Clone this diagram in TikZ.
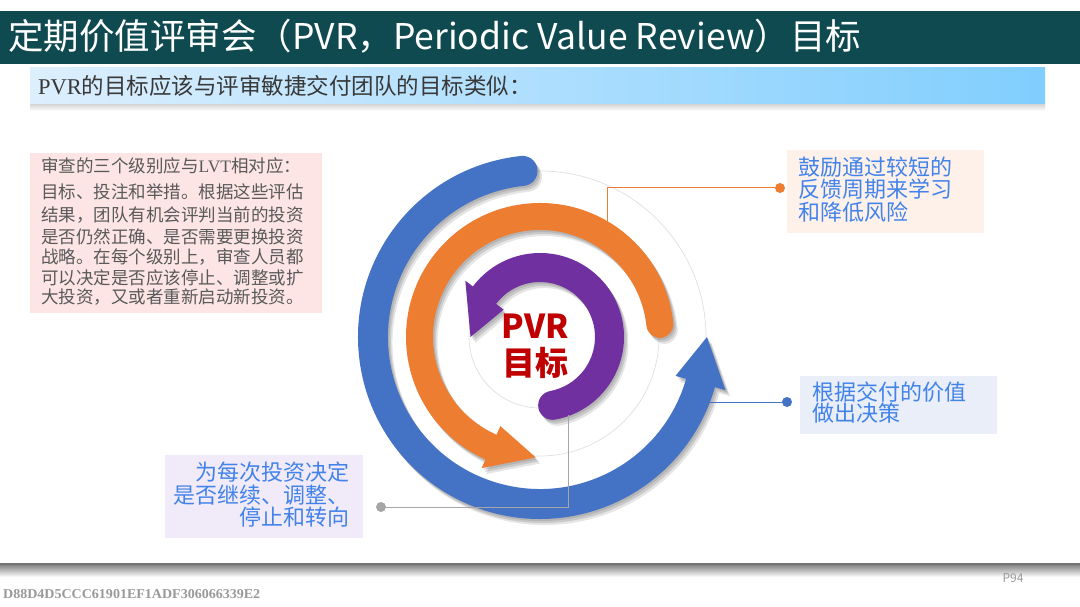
\documentclass[tikz,border=0pt]{standalone}
\usepackage{graphicx}
\usepackage{fontspec}
\setmainfont{Noto Sans CJK SC}
\newfontfamily\hashfont{Liberation Serif}
\newfontfamily\latserif{Liberation Serif}
\definecolor{titlebg}{HTML}{0E4A50}
\definecolor{subL}{HTML}{DDEFFD}
\definecolor{subR}{HTML}{80CEFE}
\definecolor{pinkbg}{HTML}{FDE5E5}
\definecolor{peachbg}{HTML}{FEF1EA}
\definecolor{lbluebg}{HTML}{E9EEF8}
\definecolor{lavbg}{HTML}{F1EAF8}
\definecolor{ringblue}{HTML}{4472C4}
\definecolor{ringorange}{HTML}{ED7D31}
\definecolor{ringpurple}{HTML}{7030A0}
\definecolor{labelblue}{HTML}{4283EA}
\definecolor{pvrred}{HTML}{C00000}
\definecolor{boxtext}{HTML}{595959}
% #1 style, #2 mid radius, #3 half width, #4 head half width, #5 start angle, #6 head base angle, #7 tip angle
\newcommand\ringarrow[7]{%
  \fill[#1] ({#5}:{#2+#3}) arc[start angle={#5}, end angle={#6}, radius={(#2+#3)*1pt}]
    -- ({#6}:{#2+#4}) -- ({#7}:{#2}) -- ({#6}:{#2-#4}) -- ({#6}:{#2-#3})
    arc[start angle={#6}, end angle={#5}, radius={(#2-#3)*1pt}]
    arc[start angle={#5+180}, end angle={#5+360}, radius={#3*1pt}] -- cycle;}
\newcommand\ringshadowed[8]{%
  \ringarrow{black,opacity=0.10,shift={(1.5,-2)}}{#2}{#3}{#4}{#5}{#6}{#7}%
  \ringarrow{black,opacity=0.12,shift={(3,-4)}}{#2}{#3}{#4}{#5}{#6}{#7}%
  \ringarrow{black,opacity=0.10,shift={(4.5,-6)}}{#2}{#3}{#4}{#5}{#6}{#7}%
  \ringarrow{#1}{#2}{#3}{#4}{#5}{#6}{#7}}
\tikzset{
  boxtxt/.style={anchor=base west, inner sep=0pt, text=boxtext, font=\fontsize{17.5}{20}\selectfont},
  lbl/.style={inner sep=0pt, text=labelblue, font=\fontsize{22}{24}\selectfont},
  dot/.style={circle, inner sep=0pt, minimum size=10pt},
  guide/.style={draw=black!12, line width=0.7pt}
}
\begin{document}
\begin{tikzpicture}[x=1pt,y=1pt]
\useasboundingbox (0,0) rectangle (1080,-607);
\fill[white] (0,0) rectangle (1080,-607);
% title
\fill[titlebg] (0,-11) rectangle (1080,-64);
\node[anchor=base west, inner sep=0pt, text=white, font=\fontsize{35.5}{40}\selectfont] (title) at (8,-50) {定期价值评审会（PVR，Periodic Value Review）目标};
% subtitle
\shade[left color=subL, right color=subR] (30,-68) rectangle (1045,-105);
\shade[top color=black!14, bottom color=white] (30,-105) rectangle (1045,-111);
\node[anchor=base west, inner sep=0pt, text=black!78, font=\fontsize{22.5}{24}\selectfont] (sub) at (38,-95) {{\latserif PVR}的目标应该与评审敏捷交付团队的目标类似：};
% left box
\fill[pinkbg] (30,-153) rectangle (322,-313);
\node[boxtxt] (l1) at (41,-172.6) {审查的三个级别应与{\latserif LVT}相对应：};
\node[boxtxt] (l2) at (41,-198.9) {目标、投注和举措。根据这些评估};
\node[boxtxt] (l3) at (41,-221.6) {结果，团队有机会评判当前的投资};
\node[boxtxt] (l4) at (41,-243.3) {是否仍然正确、是否需要更换投资};
\node[boxtxt] (l5) at (41,-263.3) {战略。在每个级别上，审查人员都};
\node[boxtxt] (l6) at (41,-284.9) {可以决定是否应该停止、调整或扩};
\node[boxtxt] (l7) at (41,-303.3) {大投资，又或者重新启动新投资。};
% rings
\begin{scope}[shift={(540,-337)}]
  \draw[guide] (0,0) circle[radius=166pt];
  \draw[guide] (0,0) circle[radius=119pt];
  \draw[guide] (0,0) circle[radius=71pt];
  \ringshadowed{ringblue}{167}{15}{26}{96}{344}{360}{}
  \ringshadowed{ringorange}{120.5}{13.5}{23}{6}{246}{268}{}
  \ringshadowed{ringpurple}{69.5}{14.5}{24}{-79.5}{143}{180}{}
\end{scope}
\node[inner sep=0pt, text=pvrred, font=\fontsize{33}{36}\selectfont\bfseries] (pvr) at (535,-326) {PVR};
\node[inner sep=0pt, text=pvrred, font=\fontsize{33}{36}\selectfont\bfseries] (goal) at (535,-363) {目标};
% right top label
\fill[peachbg] (787,-150) rectangle (984,-233);
\node[lbl, anchor=base west] (r1) at (798,-175.4) {鼓励通过较短的};
\node[lbl, anchor=base west] (r2) at (798,-197.9) {反馈周期来学习};
\node[lbl, anchor=base west] (r3) at (798,-220.4) {和降低风险};
\node[dot, fill=ringorange] (odot) at (780,-188) {};
\coordinate (oring) at (607,-221);
\draw[ringorange, line width=1pt] (oring) |- (odot);
% right bottom label
\fill[lbluebg] (800,-376) rectangle (997,-434);
\node[lbl, anchor=base west] (b1) at (812,-400.4) {根据交付的价值};
\node[lbl, anchor=base west] (b2) at (812,-421.4) {做出决策};
\node[dot, fill=ringblue] (bdot) at (787,-402) {};
\coordinate (bring) at (709,-402);
\draw[ringblue, line width=1pt] (bring) -- (bdot);
% bottom left label
\fill[lavbg] (165,-455) rectangle (363,-538);
\node[lbl, anchor=base east] (g1) at (350,-480.4) {为每次投资决定};
\node[lbl, anchor=base east] (g2) at (350,-503.4) {是否继续、调整、};
\node[lbl, anchor=base east] (g3) at (350,-525.4) {停止和转向};
\node[dot, fill=black!35] (gdot) at (381,-507) {};
\coordinate (pring) at (568,-415);
\draw[black!35, line width=1pt] (pring) |- (gdot);
% bottom shadow edge
\fill[black!55] (0,-563) rectangle (1080,-565.5);
\shade[top color=black!45, bottom color=white] (0,-565.5) rectangle (1080,-577);
\node[inner sep=0pt, text=black!40, font=\fontsize{12}{14}\selectfont] (page) at (1013,-578) {P94};
\node[anchor=west, inner sep=0pt, text=black!40] (hash) at (3,-594) {\resizebox{257pt}{9pt}{\hashfont\bfseries D88D4D5CCC61901EF1ADF306066339E2}};
\end{tikzpicture}
\end{document}
